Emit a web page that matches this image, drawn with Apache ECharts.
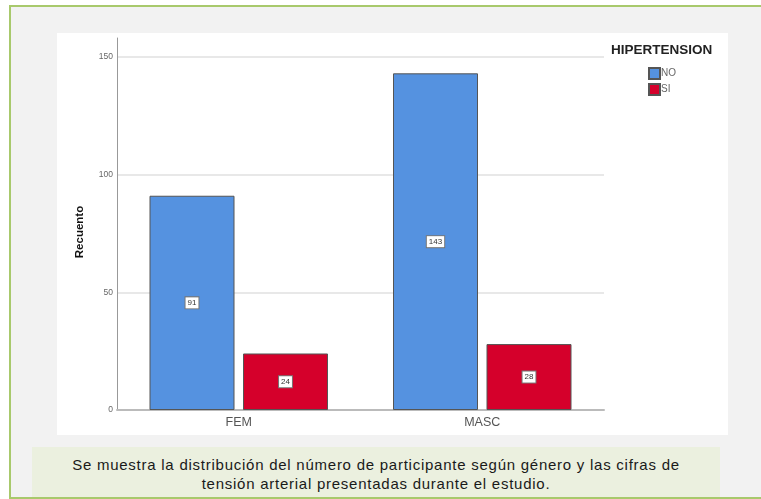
<!DOCTYPE html>
<html>
<head>
<meta charset="utf-8">
<script src="https://cdn.jsdelivr.net/npm/echarts@6/dist/echarts.min.js"></script>
<style>
  html, body { margin: 0; padding: 0; background: #ffffff; width: 761px; height: 499px; overflow: hidden; }
  #frame { position: absolute; left: 9px; top: 5px; width: 780px; height: 490px; border: 2px solid #a8c96c; background: #f2f2f2; }
  #chart { position: absolute; left: 57px; top: 33px; width: 671px; height: 402px; background: #ffffff; }
  #caption { position: absolute; left: 32px; top: 447px; width: 688px; height: 50px; background: #ebf0df;
    font-family: "Liberation Sans", Arial, sans-serif; font-size: 15px; letter-spacing: 0.75px; color: #1a1a1a;
    text-align: center; line-height: 19px; padding-top: 8px; box-sizing: border-box; white-space: nowrap; }
</style>
</head>
<body>
<div id="frame"></div>
<div id="chart"></div>
<div id="caption">Se muestra la distribución del número de participante según género y las cifras de<br>tensión arterial presentadas durante el estudio.</div>
<script>
// Counts of participants by gender and hypertension status
const categories = ['FEM', 'MASC'];
const seriesNames = ['NO', 'SI'];
const valuesNo = [91, 143];
const valuesSi = [24, 28];
const yTicks = [0, 50, 100, 150];

const chart = echarts.init(document.getElementById('chart'), null, { renderer: 'canvas' });
const font = '"Liberation Sans", Arial, sans-serif';

const boxLabel = {
  show: true,
  position: 'inside',
  fontFamily: font,
  fontSize: 8,
  color: '#333',
  backgroundColor: '#ffffff',
  borderColor: '#777',
  borderWidth: 1,
  padding: [2, 2, 1, 2]
};

chart.setOption({
  animation: false,
  textStyle: { fontFamily: font },
  title: {
    text: 'HIPERTENSION',
    left: 554,
    top: 10,
    padding: 0,
    textStyle: { fontFamily: font, fontSize: 13.5, fontWeight: 'bold', color: '#222' }
  },
  legend: {
    orient: 'vertical',
    left: 591,
    top: 34,
    padding: 0,
    itemWidth: 11,
    itemHeight: 11,
    itemGap: 3,
    icon: 'rect',
    textStyle: { fontFamily: font, fontSize: 10, color: '#666', padding: [0, 0, 0, -4] },
    data: seriesNames
  },
  grid: { left: 60, right: 124, top: 5, bottom: 25 },
  xAxis: {
    type: 'category',
    data: categories,
    axisLine: { lineStyle: { color: '#bbbbbb', width: 2 } },
    axisTick: { show: false },
    axisLabel: { fontFamily: font, fontSize: 12.5, color: '#555', margin: 6 }
  },
  yAxis: {
    type: 'value',
    min: 0,
    max: 158,
    interval: 50,
    axisLine: { show: true, lineStyle: { color: '#999', width: 1 } },
    axisTick: { show: false },
    axisLabel: {
      fontFamily: font, fontSize: 8.5, color: '#666', margin: 4,
      formatter: v => (yTicks.indexOf(v) >= 0 ? String(v) : '')
    },
    splitLine: { show: true, showMaxLine: false, lineStyle: { color: '#e0e0e0', width: 1.5 } }
  },
  graphic: [
    {
      type: 'text',
      x: 23,
      y: 199,
      rotation: Math.PI / 2,
      style: {
        text: 'Recuento',
        font: 'bold 11.5px ' + font,
        fill: '#111',
        align: 'center',
        verticalAlign: 'middle'
      }
    }
  ],
  series: [
    {
      name: seriesNames[0],
      type: 'bar',
      data: valuesNo,
      barWidth: 85,
      barGap: '10%',
      itemStyle: { color: '#5592e0', borderColor: '#555', borderWidth: 1 },
      label: boxLabel
    },
    {
      name: seriesNames[1],
      type: 'bar',
      data: valuesSi,
      barWidth: 85,
      barGap: '10%',
      itemStyle: { color: '#d5002b', borderColor: '#555', borderWidth: 1 },
      label: boxLabel
    }
  ]
});
</script>
</body>
</html>
